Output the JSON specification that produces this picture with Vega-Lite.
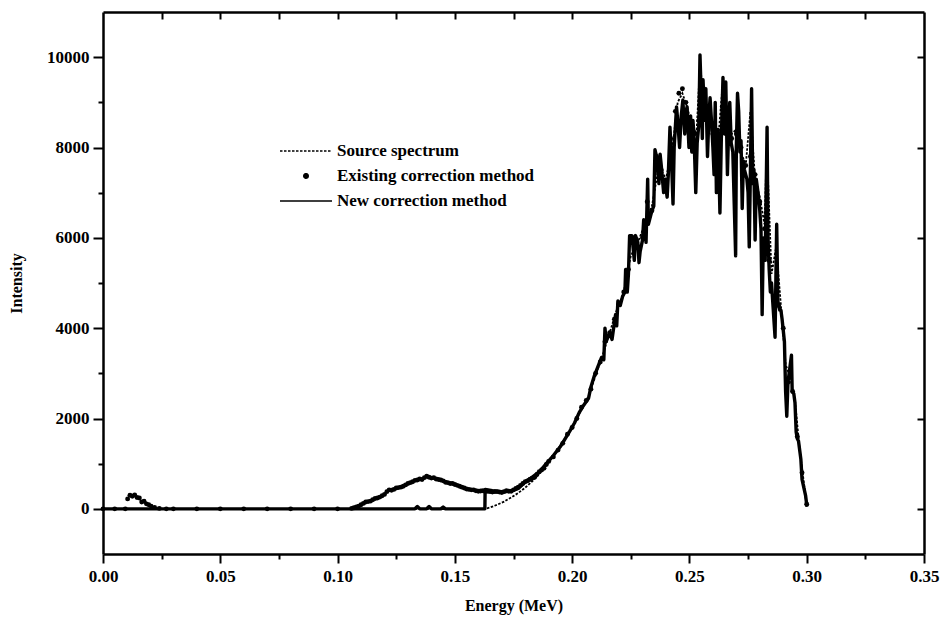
{
  "$schema": "https://vega.github.io/schema/vega-lite/v6.json",
  "width": 821,
  "height": 542,
  "autosize": "none",
  "padding": {"left": 103, "top": 12, "right": 20, "bottom": 75},
  "background": "white",
  "config": {
    "view": {"stroke": null},
    "axis": {
      "grid": false,
      "domainColor": "black",
      "domainWidth": 2.5,
      "tickColor": "black",
      "tickWidth": 2,
      "labelFont": "Liberation Serif",
      "labelFontWeight": "bold",
      "labelFontSize": 17,
      "labelColor": "black",
      "titleFont": "Liberation Serif",
      "titleFontWeight": "bold",
      "titleFontSize": 16,
      "titleColor": "black"
    }
  },
  "datasets": {
    "newm": [
      {"E": 0, "I": 0}, {"E": 0.133, "I": 0}, {"E": 0.134, "I": 50}, {"E": 0.135, "I": 0},
      {"E": 0.138, "I": 0}, {"E": 0.139, "I": 50}, {"E": 0.140, "I": 0}, {"E": 0.144, "I": 0},
      {"E": 0.145, "I": 40}, {"E": 0.146, "I": 0}, {"E": 0.1628, "I": 0}, {"E": 0.1629, "I": 430},
      {"E": 0.166, "I": 400}, {"E": 0.170, "I": 380}, {"E": 0.174, "I": 390}, {"E": 0.177, "I": 450},
      {"E": 0.180, "I": 600}, {"E": 0.183, "I": 700}, {"E": 0.186, "I": 820}, {"E": 0.189, "I": 1000},
      {"E": 0.192, "I": 1180}, {"E": 0.195, "I": 1380}, {"E": 0.197, "I": 1550}, {"E": 0.199, "I": 1720},
      {"E": 0.201, "I": 1900}, {"E": 0.203, "I": 2130}, {"E": 0.205, "I": 2300}, {"E": 0.207, "I": 2450},
      {"E": 0.208, "I": 2700}, {"E": 0.2095, "I": 2950}, {"E": 0.211, "I": 3150}, {"E": 0.2125, "I": 3350},
      {"E": 0.2135, "I": 3300}, {"E": 0.214, "I": 4000}, {"E": 0.2145, "I": 3700}, {"E": 0.216, "I": 3900},
      {"E": 0.217, "I": 3750}, {"E": 0.2185, "I": 4300}, {"E": 0.219, "I": 4050}, {"E": 0.2195, "I": 4600},
      {"E": 0.2205, "I": 4500}, {"E": 0.2215, "I": 4700}, {"E": 0.2225, "I": 4800}, {"E": 0.2228, "I": 5300},
      {"E": 0.2235, "I": 4800}, {"E": 0.224, "I": 5200}, {"E": 0.2245, "I": 6050}, {"E": 0.2255, "I": 6050},
      {"E": 0.2265, "I": 5500}, {"E": 0.227, "I": 6050}, {"E": 0.228, "I": 5900}, {"E": 0.2285, "I": 5450},
      {"E": 0.229, "I": 5700}, {"E": 0.230, "I": 5950}, {"E": 0.2305, "I": 6400}, {"E": 0.231, "I": 6200},
      {"E": 0.2315, "I": 5900}, {"E": 0.2322, "I": 7300}, {"E": 0.2325, "I": 6300}, {"E": 0.2335, "I": 6500},
      {"E": 0.234, "I": 6600}, {"E": 0.2348, "I": 6700}, {"E": 0.2353, "I": 7950}, {"E": 0.236, "I": 7800},
      {"E": 0.2365, "I": 7500}, {"E": 0.237, "I": 7200}, {"E": 0.2375, "I": 7850}, {"E": 0.238, "I": 7600},
      {"E": 0.239, "I": 7000}, {"E": 0.2395, "I": 7300}, {"E": 0.2405, "I": 6900}, {"E": 0.241, "I": 7400},
      {"E": 0.2417, "I": 8450}, {"E": 0.2423, "I": 7800}, {"E": 0.243, "I": 6750}, {"E": 0.2435, "I": 8000},
      {"E": 0.2445, "I": 8900}, {"E": 0.245, "I": 8600}, {"E": 0.2458, "I": 8000}, {"E": 0.2465, "I": 8700},
      {"E": 0.2472, "I": 9050}, {"E": 0.248, "I": 8300}, {"E": 0.2485, "I": 8800}, {"E": 0.249, "I": 8900},
      {"E": 0.2498, "I": 8000}, {"E": 0.2505, "I": 8700}, {"E": 0.251, "I": 7900}, {"E": 0.2515, "I": 8600},
      {"E": 0.252, "I": 8200}, {"E": 0.2527, "I": 7000}, {"E": 0.2533, "I": 8100}, {"E": 0.254, "I": 8500},
      {"E": 0.2545, "I": 10050}, {"E": 0.255, "I": 9200}, {"E": 0.2555, "I": 8200}, {"E": 0.2558, "I": 9500},
      {"E": 0.2565, "I": 8600}, {"E": 0.257, "I": 9300}, {"E": 0.2577, "I": 7800}, {"E": 0.2583, "I": 8700},
      {"E": 0.2588, "I": 9100}, {"E": 0.2595, "I": 8500}, {"E": 0.260, "I": 8000}, {"E": 0.2605, "I": 7400},
      {"E": 0.261, "I": 9000}, {"E": 0.2615, "I": 7000}, {"E": 0.2622, "I": 8400}, {"E": 0.263, "I": 6550},
      {"E": 0.2636, "I": 8200}, {"E": 0.2643, "I": 9550}, {"E": 0.265, "I": 8300}, {"E": 0.2655, "I": 9450},
      {"E": 0.2662, "I": 7400}, {"E": 0.2667, "I": 8400}, {"E": 0.2672, "I": 9000}, {"E": 0.2678, "I": 8100},
      {"E": 0.2685, "I": 7900}, {"E": 0.2697, "I": 5600}, {"E": 0.270, "I": 8000}, {"E": 0.2705, "I": 9200},
      {"E": 0.271, "I": 8800}, {"E": 0.2715, "I": 7900}, {"E": 0.272, "I": 8150}, {"E": 0.2725, "I": 6650},
      {"E": 0.273, "I": 7700}, {"E": 0.2735, "I": 7500}, {"E": 0.2745, "I": 7300}, {"E": 0.275, "I": 7000},
      {"E": 0.2755, "I": 5800}, {"E": 0.276, "I": 7500}, {"E": 0.2765, "I": 9300}, {"E": 0.277, "I": 7200},
      {"E": 0.2775, "I": 7500}, {"E": 0.278, "I": 5950}, {"E": 0.2785, "I": 7300}, {"E": 0.2795, "I": 6900},
      {"E": 0.280, "I": 6600}, {"E": 0.2805, "I": 6200}, {"E": 0.281, "I": 4300}, {"E": 0.2815, "I": 6000},
      {"E": 0.2823, "I": 5500}, {"E": 0.2831, "I": 8450}, {"E": 0.2835, "I": 6000}, {"E": 0.284, "I": 5300},
      {"E": 0.2845, "I": 4800}, {"E": 0.285, "I": 5000}, {"E": 0.2855, "I": 4600}, {"E": 0.2865, "I": 3800},
      {"E": 0.2872, "I": 6300}, {"E": 0.2877, "I": 4600}, {"E": 0.2885, "I": 4400}, {"E": 0.289, "I": 4400},
      {"E": 0.2895, "I": 4200}, {"E": 0.2905, "I": 3700}, {"E": 0.291, "I": 2600}, {"E": 0.2915, "I": 2050},
      {"E": 0.292, "I": 2800}, {"E": 0.2935, "I": 3400}, {"E": 0.2938, "I": 2600}, {"E": 0.2945, "I": 2550},
      {"E": 0.295, "I": 2350}, {"E": 0.2955, "I": 1700}, {"E": 0.296, "I": 1550}, {"E": 0.2965, "I": 1500},
      {"E": 0.2975, "I": 1100}, {"E": 0.298, "I": 650}, {"E": 0.2995, "I": 300}, {"E": 0.3001, "I": 50}
    ],
    "source": [
      {"E": 0, "I": 0}, {"E": 0.1628, "I": 0}, {"E": 0.165, "I": 30}, {"E": 0.168, "I": 90},
      {"E": 0.171, "I": 160}, {"E": 0.174, "I": 250}, {"E": 0.177, "I": 350}, {"E": 0.180, "I": 470},
      {"E": 0.183, "I": 610}, {"E": 0.186, "I": 780}, {"E": 0.189, "I": 970}, {"E": 0.192, "I": 1180},
      {"E": 0.195, "I": 1400}, {"E": 0.198, "I": 1650}, {"E": 0.201, "I": 1900}, {"E": 0.204, "I": 2200},
      {"E": 0.207, "I": 2500}, {"E": 0.210, "I": 2950}, {"E": 0.213, "I": 3400}, {"E": 0.216, "I": 3900},
      {"E": 0.219, "I": 4400}, {"E": 0.222, "I": 4800}, {"E": 0.225, "I": 5600}, {"E": 0.228, "I": 5900},
      {"E": 0.231, "I": 6300}, {"E": 0.234, "I": 6700}, {"E": 0.237, "I": 7600}, {"E": 0.240, "I": 7300},
      {"E": 0.243, "I": 8100}, {"E": 0.245, "I": 9000}, {"E": 0.247, "I": 9200}, {"E": 0.249, "I": 8900},
      {"E": 0.251, "I": 8500}, {"E": 0.253, "I": 8300}, {"E": 0.2545, "I": 9800}, {"E": 0.256, "I": 9200},
      {"E": 0.258, "I": 8800}, {"E": 0.260, "I": 8200}, {"E": 0.262, "I": 8000}, {"E": 0.264, "I": 9300},
      {"E": 0.266, "I": 8500}, {"E": 0.268, "I": 8300}, {"E": 0.270, "I": 8400}, {"E": 0.272, "I": 7900},
      {"E": 0.274, "I": 7600}, {"E": 0.276, "I": 8800}, {"E": 0.278, "I": 7300}, {"E": 0.280, "I": 6900},
      {"E": 0.282, "I": 6300}, {"E": 0.283, "I": 8000}, {"E": 0.285, "I": 5200}, {"E": 0.287, "I": 5800},
      {"E": 0.289, "I": 4500}, {"E": 0.291, "I": 3200}, {"E": 0.293, "I": 2900}, {"E": 0.295, "I": 2400},
      {"E": 0.297, "I": 1300}, {"E": 0.299, "I": 500}, {"E": 0.300, "I": 50}
    ],
    "existing": [
      {"E": 0.0, "I": 0}, {"E": 0.005, "I": 0}, {"E": 0.0095, "I": 0}, {"E": 0.0105, "I": 220},
      {"E": 0.0115, "I": 300}, {"E": 0.0125, "I": 280}, {"E": 0.0135, "I": 310}, {"E": 0.0145, "I": 250},
      {"E": 0.0155, "I": 240}, {"E": 0.0165, "I": 150}, {"E": 0.0175, "I": 170}, {"E": 0.0185, "I": 110},
      {"E": 0.0195, "I": 90}, {"E": 0.0205, "I": 60}, {"E": 0.022, "I": 30}, {"E": 0.024, "I": 10},
      {"E": 0.027, "I": 0}, {"E": 0.03, "I": 0}, {"E": 0.04, "I": 0}, {"E": 0.05, "I": 0},
      {"E": 0.06, "I": 0}, {"E": 0.07, "I": 0}, {"E": 0.08, "I": 0}, {"E": 0.09, "I": 0},
      {"E": 0.10, "I": 0}, {"E": 0.106, "I": 10}, {"E": 0.107, "I": 25}, {"E": 0.108, "I": 40}, {"E": 0.109, "I": 60}, {"E": 0.110, "I": 90},
      {"E": 0.111, "I": 120}, {"E": 0.112, "I": 150}, {"E": 0.113, "I": 160}, {"E": 0.114, "I": 170}, {"E": 0.115, "I": 200}, {"E": 0.116, "I": 230},
      {"E": 0.117, "I": 240}, {"E": 0.118, "I": 260}, {"E": 0.119, "I": 290},
      {"E": 0.120, "I": 320}, {"E": 0.121, "I": 380}, {"E": 0.122, "I": 420}, {"E": 0.123, "I": 410}, {"E": 0.124, "I": 430}, {"E": 0.125, "I": 460}, {"E": 0.126, "I": 470},
      {"E": 0.127, "I": 480}, {"E": 0.128, "I": 500}, {"E": 0.129, "I": 530}, {"E": 0.130, "I": 560}, {"E": 0.131, "I": 580}, {"E": 0.132, "I": 600}, {"E": 0.133, "I": 630}, {"E": 0.134, "I": 640},
      {"E": 0.135, "I": 660}, {"E": 0.136, "I": 650}, {"E": 0.137, "I": 690}, {"E": 0.138, "I": 720}, {"E": 0.139, "I": 700}, {"E": 0.140, "I": 680}, {"E": 0.141, "I": 690}, {"E": 0.142, "I": 660},
      {"E": 0.143, "I": 650}, {"E": 0.144, "I": 640}, {"E": 0.145, "I": 620}, {"E": 0.146, "I": 590}, {"E": 0.147, "I": 580}, {"E": 0.148, "I": 560}, {"E": 0.149, "I": 560}, {"E": 0.150, "I": 540},
      {"E": 0.151, "I": 520}, {"E": 0.152, "I": 500}, {"E": 0.153, "I": 480}, {"E": 0.154, "I": 460}, {"E": 0.155, "I": 440}, {"E": 0.156, "I": 430}, {"E": 0.157, "I": 420}, {"E": 0.158, "I": 420},
      {"E": 0.159, "I": 400}, {"E": 0.160, "I": 390}, {"E": 0.161, "I": 395}, {"E": 0.162, "I": 400}, {"E": 0.163, "I": 385}, {"E": 0.164, "I": 390}, {"E": 0.165, "I": 380}, {"E": 0.166, "I": 370},
      {"E": 0.167, "I": 380}, {"E": 0.168, "I": 380}, {"E": 0.169, "I": 370}, {"E": 0.170, "I": 360}, {"E": 0.171, "I": 380}, {"E": 0.172, "I": 400}, {"E": 0.173, "I": 390}, {"E": 0.174, "I": 390},
      {"E": 0.175, "I": 420}, {"E": 0.176, "I": 450}, {"E": 0.177, "I": 480}, {"E": 0.178, "I": 520}, {"E": 0.179, "I": 560}, {"E": 0.180, "I": 600}, {"E": 0.181, "I": 620}, {"E": 0.182, "I": 650},
      {"E": 0.183, "I": 680}, {"E": 0.184, "I": 700}, {"E": 0.185, "I": 760}, {"E": 0.186, "I": 820}, {"E": 0.187, "I": 860}, {"E": 0.188, "I": 900}, {"E": 0.189, "I": 980}, {"E": 0.190, "I": 1050},
      {"E": 0.192, "I": 1150}, {"E": 0.194, "I": 1300}, {"E": 0.196, "I": 1450}, {"E": 0.198, "I": 1650},
      {"E": 0.200, "I": 1800}, {"E": 0.202, "I": 2000}, {"E": 0.204, "I": 2250}, {"E": 0.206, "I": 2400},
      {"E": 0.208, "I": 2650}, {"E": 0.210, "I": 3000}, {"E": 0.212, "I": 3250}, {"E": 0.214, "I": 3700},
      {"E": 0.216, "I": 3900}, {"E": 0.218, "I": 4200}, {"E": 0.220, "I": 4550}, {"E": 0.222, "I": 4800},
      {"E": 0.224, "I": 5300}, {"E": 0.226, "I": 6000}, {"E": 0.228, "I": 5800}, {"E": 0.230, "I": 6000},
      {"E": 0.232, "I": 6800}, {"E": 0.234, "I": 6600}, {"E": 0.236, "I": 7800}, {"E": 0.238, "I": 7500},
      {"E": 0.240, "I": 7200}, {"E": 0.242, "I": 8200}, {"E": 0.244, "I": 8800}, {"E": 0.2455, "I": 9200},
      {"E": 0.247, "I": 9300}, {"E": 0.2485, "I": 9000}, {"E": 0.250, "I": 8500}, {"E": 0.252, "I": 8300},
      {"E": 0.254, "I": 8600}, {"E": 0.256, "I": 9300}, {"E": 0.258, "I": 8800}, {"E": 0.260, "I": 8300},
      {"E": 0.262, "I": 8000}, {"E": 0.264, "I": 8900}, {"E": 0.266, "I": 8600}, {"E": 0.268, "I": 8200},
      {"E": 0.270, "I": 8300}, {"E": 0.272, "I": 8000}, {"E": 0.274, "I": 7600}, {"E": 0.276, "I": 7800},
      {"E": 0.278, "I": 7400}, {"E": 0.280, "I": 6800}, {"E": 0.282, "I": 6200}, {"E": 0.284, "I": 5500},
      {"E": 0.286, "I": 4700}, {"E": 0.288, "I": 4500}, {"E": 0.290, "I": 4000}, {"E": 0.292, "I": 2800},
      {"E": 0.294, "I": 2600}, {"E": 0.296, "I": 1600}, {"E": 0.298, "I": 800}, {"E": 0.300, "I": 100}
    ],
    "frame": [{"E": 0, "I": -1000}, {"E": 0.35, "I": 11000}]
  },
  "resolve": {"axis": {"x": "independent", "y": "independent"}},
  "layer": [
    {
      "data": {"name": "newm"},
      "mark": {"type": "line", "strokeWidth": 3.4, "strokeJoin": "round"},
      "encoding": {
        "x": {
          "field": "E", "type": "quantitative",
          "scale": {"domain": [0, 0.35], "nice": false, "zero": false},
          "axis": {
            "orient": "bottom", "title": "Energy (MeV)",
            "values": [0, 0.05, 0.1, 0.15, 0.2, 0.25, 0.3, 0.35],
            "format": ".2f", "tickSize": 9, "labelPadding": 5, "titlePadding": 13,
            "labelFlush": false
          }
        },
        "y": {
          "field": "I", "type": "quantitative",
          "scale": {"domain": [-1000, 11000], "nice": false, "zero": false},
          "axis": {
            "orient": "left", "title": "Intensity",
            "values": [0, 2000, 4000, 6000, 8000, 10000],
            "format": "d",
            "tickSize": 10, "labelPadding": 4, "titlePadding": 22,
            "titleFontSize": 16
          }
        },
        "color": {
          "datum": "New correction method",
          "type": "nominal",
          "scale": {
            "domain": ["Source spectrum", "Existing correction method", "New correction method"],
            "range": ["black", "black", "black"]
          },
          "legend": {
            "orient": "none",
            "legendX": 192,
            "legendY": 128,
            "title": null,
            "padding": 0,
            "labelFont": "Liberation Serif",
            "labelFontWeight": "bold",
            "labelFontSize": 17,
            "labelColor": "black",
            "labelLimit": 400,
            "labelOffset": 20,
            "rowPadding": 6,
            "symbolType": "M-2.6,0H2.6",
            "symbolSize": 400,
            "symbolStrokeWidth": 1.5,
            "encode": {
              "symbols": {
                "update": {
                  "shape": {"signal": "datum.value === 'Existing correction method' ? 'circle' : 'M-2.6,0H2.6'"},
                  "size": {"signal": "datum.value === 'Existing correction method' ? 20 : 400"},
                  "strokeDash": {"signal": "datum.value === 'Source spectrum' ? [2.5, 1.5] : [1, 0]"},
                  "fill": {"signal": "datum.value === 'Existing correction method' ? 'black' : 'transparent'"},
                  "stroke": {"value": "black"},
                  "strokeWidth": {"value": 1.5},
                  "opacity": {"value": 1}
                }
              }
            }
          }
        }
      }
    },
    {
      "data": {"name": "source"},
      "mark": {"type": "line", "strokeWidth": 1.8, "strokeDash": [2.5, 1.5]},
      "encoding": {
        "x": {"field": "E", "type": "quantitative", "axis": null},
        "y": {"field": "I", "type": "quantitative", "axis": null},
        "color": {"datum": "Source spectrum", "type": "nominal"}
      }
    },
    {
      "data": {"name": "existing"},
      "mark": {"type": "point", "filled": true, "size": 24, "opacity": 1},
      "encoding": {
        "x": {"field": "E", "type": "quantitative", "axis": null},
        "y": {"field": "I", "type": "quantitative", "axis": null},
        "color": {"datum": "Existing correction method", "type": "nominal"}
      }
    },
    {
      "data": {"name": "frame"},
      "mark": {"type": "point", "opacity": 0},
      "encoding": {
        "x": {
          "field": "E", "type": "quantitative",
          "axis": {
            "orient": "bottom", "title": null, "labels": false, "domain": false,
            "values": [0.025, 0.075, 0.125, 0.175, 0.225, 0.275, 0.325],
            "tickSize": 5
          }
        },
        "y": {
          "field": "I", "type": "quantitative",
          "axis": {
            "orient": "left", "title": null, "labels": false, "domain": false,
            "values": [1000, 3000, 5000, 7000, 9000],
            "tickSize": 5
          }
        }
      }
    },
    {
      "data": {"name": "frame"},
      "mark": {"type": "point", "opacity": 0},
      "encoding": {
        "x": {
          "field": "E", "type": "quantitative",
          "axis": {
            "orient": "top", "title": null, "labels": false,
            "values": [0.025, 0.05, 0.075, 0.1, 0.125, 0.15, 0.175, 0.2, 0.225, 0.25, 0.275, 0.3, 0.325],
            "tickSize": -7
          }
        },
        "y": {
          "field": "I", "type": "quantitative",
          "axis": {
            "orient": "right", "title": null, "labels": false,
            "values": [0, 2000, 4000, 6000, 8000, 10000],
            "tickSize": -7
          }
        }
      }
    }
  ]
}
